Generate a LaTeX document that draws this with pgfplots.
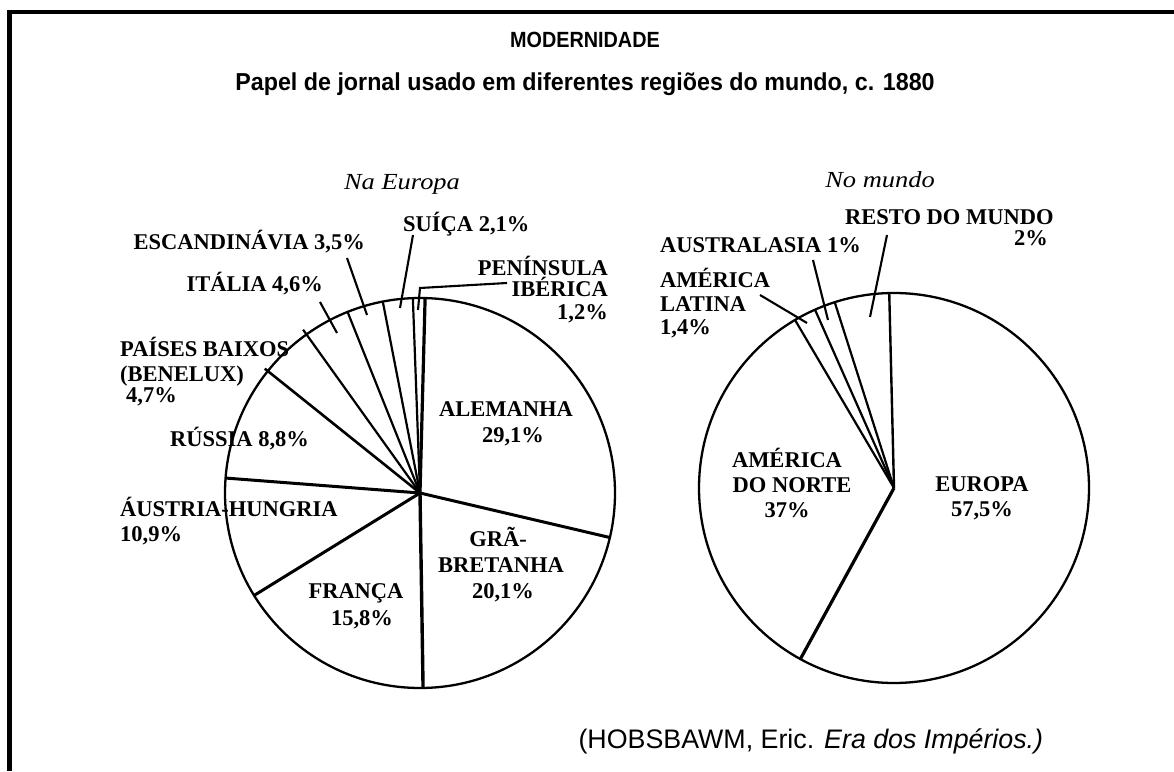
\documentclass[border=0pt]{standalone}
\usepackage{pgfplots}
\pgfplotsset{compat=1.18}
\usepgfplotslibrary{polar}
\usepackage{fontspec}
\setmainfont{Liberation Serif}
\newfontfamily\sansf{Liberation Sans}
\newcommand\lab{\fontsize{22.5}{24}\selectfont\bfseries}
\begin{document}
\begin{tikzpicture}[x=1pt,y=1pt]
\path[use as bounding box] (0,0) rectangle (1174,771);
\draw[line width=4.5pt] (9.5,0) -- (9.5,759) -- (1176,759);
\pgfplotsset{pie/.style={scale only axis, width=390pt, height=390pt,
  xmin=0, xmax=360, ymin=0, ymax=1, xtick=\empty, ytick=\empty,
  x axis line style={line width=2.3pt}, y axis line style={draw=none},
  anchor=center, clip=false}}
% ---- Na Europa: wedge boundaries (angle in degrees, radius) ----
\begin{polaraxis}[pie, at={(420pt,278pt)}]
\addplot[no marks, line width=3.2pt] coordinates {(0,0) (88.5,1)};   % Iberia | Alemanha
\addplot[no marks, line width=2.2pt] coordinates {(0,0) (92.1,1)};   % Suica | Iberia
\addplot[no marks, line width=2.2pt] coordinates {(0,0) (101.0,1)};  % Escandinavia | Suica
\addplot[no marks, line width=2.2pt] coordinates {(0,0) (111.8,1)};  % Italia | Escandinavia
\addplot[no marks, line width=2.2pt] coordinates {(0,0) (125.6,1.03)};  % P. Baixos | Italia
\addplot[no marks, line width=2.6pt] coordinates {(0,0) (141.3,1.02)};  % Russia | P. Baixos
\addplot[no marks, line width=3.0pt] coordinates {(0,0) (175.6,1)};  % Austria | Russia
\addplot[no marks, line width=3.0pt] coordinates {(0,0) (211.7,1)};  % Franca | Austria
\addplot[no marks, line width=3.4pt] coordinates {(0,0) (270.9,1)};  % GB | Franca
\addplot[no marks, line width=3.0pt] coordinates {(0,0) (346.8,1)};  % Alemanha | GB
\end{polaraxis}
% ---- No mundo ----
\begin{polaraxis}[pie, at={(894pt,283pt)}]
\addplot[no marks, line width=2.4pt] coordinates {(0,0) (91.4,1)};   % Resto | Europa
\addplot[no marks, line width=2.2pt] coordinates {(0,0) (107.7,1)};  % Australasia | Resto
\addplot[no marks, line width=2.2pt] coordinates {(0,0) (113.9,1)};  % Latina | Australasia
\addplot[no marks, line width=2.2pt] coordinates {(0,0) (120.5,1)};  % Am. Norte | Latina
\addplot[no marks, line width=3.2pt] coordinates {(0,0) (241.3,1)};  % Europa | Am. Norte
\end{polaraxis}
% ---- leader lines ----
\begin{scope}[line width=2.1pt]
\draw (413,536) -- (400,463);
\draw (347,513) -- (367,456);
\draw (320,469) -- (337,438);
\draw (507,488) -- (420,483) -- (418,461);
\draw (887,536) -- (870,454);
\draw (813,511) -- (828,451);
\draw (760,476) -- (807,448);
\end{scope}
% ---- titles ----
\node[anchor=base, font=\sansf\bfseries\fontsize{22}{24}\selectfont, xscale=0.9] at (585,723) {MODERNIDADE};
\node[anchor=base, font=\sansf\bfseries\fontsize{24.5}{26}\selectfont, xscale=0.95] at (585,680) {Papel de jornal usado em diferentes regiões do mundo, c. 1880};
\node[anchor=base, font=\itshape\fontsize{23}{25}\selectfont, xscale=1.15] at (402,581) {Na Europa};
\node[anchor=base, font=\itshape\fontsize{23}{25}\selectfont, xscale=1.15] at (880,583) {No mundo};
\node[anchor=base west, font=\sansf\fontsize{26.8}{28}\selectfont] at (575,23) {(HOBSBAWM, Eric. \textit{Era dos Impérios.)}};
% ---- labels Europa ----
\begin{scope}[every node/.style={font=\lab, inner sep=0pt}]
\node[anchor=base west] at (403,539) {SUÍÇA 2,1\%};
\node[anchor=base east] at (365,521) {ESCANDINÁVIA 3,5\%};
\node[anchor=base east] at (323,479) {ITÁLIA 4,6\%};
\node[anchor=base east] at (608,495) {PENÍNSULA};
\node[anchor=base east] at (608,474) {IBÉRICA};
\node[anchor=base east] at (608,451) {1,2\%};
\node[anchor=base west] at (120,414) {PAÍSES BAIXOS};
\node[anchor=base west] at (120,389) {(BENELUX)};
\node[anchor=base west] at (126,368) {4,7\%};
\node[anchor=base west] at (170,324) {RÚSSIA 8,8\%};
\node[anchor=base west] at (120,254) {ÁUSTRIA-HUNGRIA};
\node[anchor=base west] at (120,229) {10,9\%};
\node[anchor=base] at (506,354) {ALEMANHA};
\node[anchor=base] at (513,328) {29,1\%};
\node[anchor=base] at (498,224) {GRÃ-};
\node[anchor=base] at (501,198) {BRETANHA};
\node[anchor=base] at (503,173) {20,1\%};
\node[anchor=base] at (356,173) {FRANÇA};
\node[anchor=base] at (362,146) {15,8\%};
% ---- labels Mundo ----
\node[anchor=base west] at (845,546) {RESTO DO MUNDO};
\node[anchor=base east] at (1048,525) {2\%};
\node[anchor=base west] at (660,518) {AUSTRALASIA 1\%};
\node[anchor=base west] at (660,483) {AMÉRICA};
\node[anchor=base west] at (660,459) {LATINA};
\node[anchor=base west] at (660,436) {1,4\%};
\node[anchor=base] at (787,303) {AMÉRICA};
\node[anchor=base] at (792,278) {DO NORTE};
\node[anchor=base] at (787,253) {37\%};
\node[anchor=base] at (982,279) {EUROPA};
\node[anchor=base] at (982,254) {57,5\%};
\end{scope}
\end{tikzpicture}
\end{document}
